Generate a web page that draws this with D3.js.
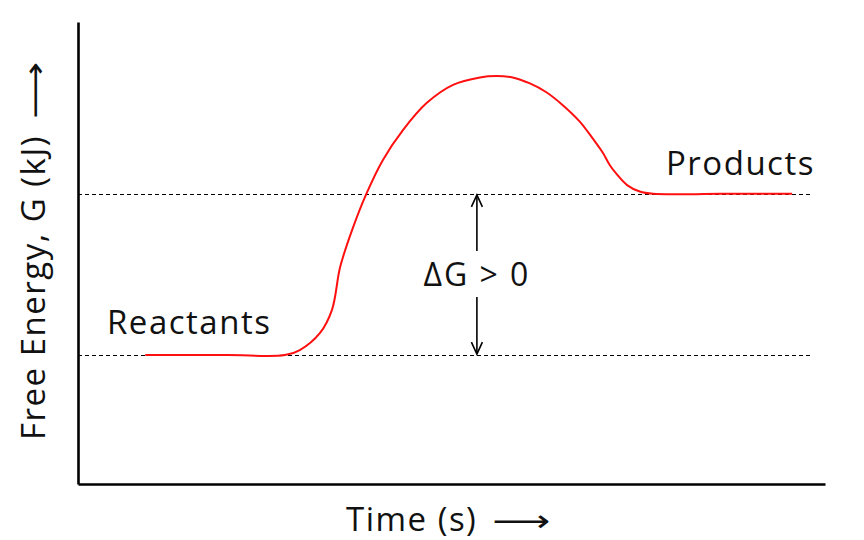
<!DOCTYPE html>
<html>
<head>
<meta charset="utf-8">
<script src="https://cdn.jsdelivr.net/npm/d3@7"></script>
<style>
  html, body { margin: 0; padding: 0; background: #fff; }
  svg text { font-family: 'Open Sans', 'Noto Sans', sans-serif; fill: #111; }
</style>
</head>
<body>
<div id="chart"></div>
<script>
(function (context) {
  const d3 = context.d3

  // reaction coordinate (time) and free energy
  const time = [9, 20, 27.7, 29.7, 32.4, 34, 35.1, 36.7, 38.6, 40.8, 43.5, 46.7, 50.2, 53.8, 56,
    58.2, 60.5, 62.7, 64.9, 67.2, 68.9, 70.3, 71.2, 72.2, 73.5, 75.2, 77, 86, 95.6]
  const energy = [27.9, 27.9, 27.9, 29, 32.7, 37.7, 47, 55, 62.8, 70.1, 76.6, 82.5, 86.4, 88, 88.3,
    88, 86.7, 84.8, 82, 78.4, 74.8, 71.6, 69, 66.9, 64.7, 63.3, 62.8, 62.8, 62.8]

  const levelNames = ['Reactants', 'Products']
  const levelValues = [27.9, 62.8]

  const xTitle = 'Time (s)'
  const yTitle = 'Free Energy, G (kJ)'
  const deltaLabel = '\u0394G > 0'
  const longArrow = '\u27F6'

  const width = 864
  const height = 540
  const margin = {top: 22, right: 39, bottom: 56, left: 78}

  const x = d3.scaleLinear().domain([0, 100]).range([margin.left, width - margin.right])
  const y = d3.scaleLinear().domain([0, 100]).range([height - margin.bottom, margin.top])

  const svg = d3.select('#chart')
    .append('svg')
    .attr('width', width)
    .attr('height', height)

  // dashed reference levels
  svg.selectAll('line.level')
    .data(levelValues)
    .enter()
    .append('line')
    .attr('class', 'level')
    .attr('x1', x(0))
    .attr('x2', x(98.3))
    .attr('y1', function (d) { return Math.round(y(d)) + 0.5 })
    .attr('y2', function (d) { return Math.round(y(d)) + 0.5 })
    .attr('stroke', '#000')
    .attr('stroke-width', 1)
    .attr('stroke-dasharray', '4,3')

  // axes, no ticks
  const xAxis = d3.axisBottom(x).tickValues([]).tickSizeOuter(0)
  const yAxis = d3.axisLeft(y).tickValues([]).tickSizeOuter(0)

  svg.append('g')
    .attr('transform', 'translate(0,' + y(0) + ')')
    .call(xAxis)
    .select('.domain')
    .attr('stroke', '#000')
    .attr('stroke-width', 2.6)

  svg.append('g')
    .attr('transform', 'translate(' + x(0) + ',0)')
    .call(yAxis)
    .select('.domain')
    .attr('stroke', '#000')
    .attr('stroke-width', 2.6)

  // energy curve
  const points = time.map(function (t, i) { return [t, energy[i]] })
  const line = d3.line()
    .x(function (d) { return x(d[0]) })
    .y(function (d) { return y(d[1]) })
    .curve(d3.curveCatmullRom.alpha(0.5))

  svg.append('path')
    .datum(points)
    .attr('d', line)
    .attr('fill', 'none')
    .attr('stroke', '#ff1010')
    .attr('stroke-width', 2)

  // delta G double arrow
  const arrowX = x(53.4)
  const arrowHead = function (tipY, dir) {
    return 'M' + (arrowX - 5.5) + ',' + (tipY + dir * 12) + 'L' + arrowX + ',' + tipY +
      'L' + (arrowX + 5.5) + ',' + (tipY + dir * 12)
  }
  const arrows = svg.append('g')
    .attr('stroke', '#000')
    .attr('stroke-width', 1.6)
    .attr('fill', 'none')
  arrows.append('line')
    .attr('x1', arrowX).attr('x2', arrowX)
    .attr('y1', y(levelValues[1]) + 1).attr('y2', 251)
  arrows.append('path').attr('d', arrowHead(y(levelValues[1]) + 1, 1))
  arrows.append('line')
    .attr('x1', arrowX).attr('x2', arrowX)
    .attr('y1', 297).attr('y2', y(levelValues[0]) - 1)
  arrows.append('path').attr('d', arrowHead(y(levelValues[0]) - 1, -1))

  svg.append('text')
    .attr('x', arrowX)
    .attr('y', 286)
    .attr('text-anchor', 'middle')
    .style('font-size', '32px')
    .style('letter-spacing', '2px')
    .text(deltaLabel)

  // level labels
  const labelPos = [[107, 334], [666, 175]]
  svg.selectAll('text.level')
    .data(levelNames)
    .enter()
    .append('text')
    .attr('class', 'level')
    .attr('x', function (d, i) { return labelPos[i][0] })
    .attr('y', function (d, i) { return labelPos[i][1] })
    .style('font-size', '33px')
    .style('letter-spacing', '1.5px')
    .text(function (d) { return d })

  // axis titles, each followed by a long arrow
  svg.append('text')
    .attr('x', 346)
    .attr('y', 531)
    .style('font-size', '33px')
    .style('letter-spacing', '1.5px')
    .text(xTitle)
  svg.append('text')
    .attr('x', 492)
    .attr('y', 531)
    .attr('textLength', 58)
    .attr('lengthAdjust', 'spacingAndGlyphs')
    .style('font-family', 'DejaVu Sans')
    .style('font-size', '30px')
    .text(longArrow)

  svg.append('text')
    .attr('transform', 'translate(45,440) rotate(-90)')
    .style('font-size', '33px')
    .style('letter-spacing', '1.5px')
    .text(yTitle)
  svg.append('text')
    .attr('transform', 'translate(45,119) rotate(-90)')
    .attr('textLength', 57)
    .attr('lengthAdjust', 'spacingAndGlyphs')
    .style('font-family', 'DejaVu Sans')
    .style('font-size', '30px')
    .text(longArrow)
})(window)
</script>
</body>
</html>
